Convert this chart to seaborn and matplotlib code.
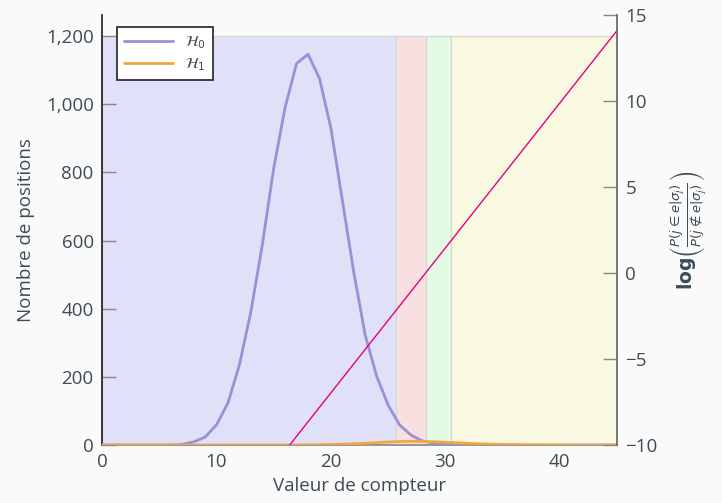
import numpy as np
import pandas as pd
import matplotlib
matplotlib.use("Agg")
import matplotlib.pyplot as plt
import matplotlib.ticker as mticker
import seaborn as sns

# Data
x_vals = list(range(0, 46))
h0 = [0, 0, 0, 0, 0, 0, 0, 2, 9, 23, 59, 123, 235, 390, 586, 812, 991, 1120, 1147, 1076,
      930, 718, 507, 322, 202, 117, 59, 29, 12, 5, 2, 1, 0, 0, 0, 0, 0, 0, 0, 0,
      0, 0, 0, 0, 0, 0]
h1 = [0, 0, 0, 0, 0, 0, 0, 0, 0, 0, 0, 0, 0, 0, 0, 0, 0, 0, 0.5, 1,
      1.5, 2.5, 3.5, 5, 7, 9, 10, 11, 10.5, 9.5, 8, 6.5, 5, 3.5, 2.5, 1.5, 1, 0.6, 0.3, 0.2,
      0.1, 0, 0, 0, 0, 0]
llr_x = [16.4, 45]
llr_y = [-10, 14.1]
regions = [(0, 25.7), (25.7, 28.3), (28.3, 30.5), (30.5, 45)]
region_colors = ["#e0e0f8", "#f9e0e0", "#e2f9e2", "#f9f9e2"]
labels = [r"$\mathcal{H}_0$", r"$\mathcal{H}_1$"]

sns.set_theme(style="white")
plt.rcParams['font.family'] = ['Open Sans', 'DejaVu Sans']
plt.rcParams['mathtext.fontset'] = 'dejavusans'
txt = "#3c4c55"
plt.rcParams['text.color'] = txt
plt.rcParams['axes.labelcolor'] = txt
plt.rcParams['xtick.color'] = txt
plt.rcParams['ytick.color'] = txt

fig = plt.figure(figsize=(7.22, 5.03), dpi=100, facecolor="#fafafa")
ax = fig.add_axes([0.1413, 0.1153, 0.7133, 0.8547])
ax.set_facecolor("#fafafa")

for (a, b), c in zip(regions, region_colors):
    ax.fill_between([a, b], 0, 1200, color=c, zorder=0, lw=0)
    ax.plot([a, a], [0, 1200], color="#d8d8d8", lw=1, zorder=0.5)
ax.plot([0, 45], [1200, 1200], color="#d8d8d8", lw=1, zorder=0.5)

df = pd.DataFrame({"x": x_vals, "h0": h0, "h1": h1})
sns.lineplot(data=df, x="x", y="h0", ax=ax, color="#9a90d8", lw=2, label=labels[0], zorder=3)
sns.lineplot(data=df, x="x", y="h1", ax=ax, color="#f5a540", lw=2, label=labels[1], zorder=3)

ax.set_xlim(0, 45)
ax.set_ylim(0, 1262)
ax.set_xticks([0, 10, 20, 30, 40])
ax.set_yticks([0, 200, 400, 600, 800, 1000, 1200])
ax.yaxis.set_major_formatter(mticker.FuncFormatter(lambda v, p: f"{int(v):,}"))
ax.tick_params(direction="in", length=10, width=1, labelsize=13.5, color="#888888", pad=6)
ax.set_xlabel("Valeur de compteur", fontsize=13.5, labelpad=4)
ax.set_ylabel("Nombre de positions", fontsize=13.5, labelpad=8)
ax.spines["top"].set_visible(False)
ax.spines["left"].set_color("#222222")
ax.spines["bottom"].set_color("#888888")
ax.spines["right"].set_visible(False)

leg = ax.legend(loc="upper left", bbox_to_anchor=(0.029, 0.972), borderaxespad=0,
                frameon=True, fontsize=11, handlelength=3.2, handletextpad=0.8,
                fancybox=False, borderpad=0.45, labelspacing=0.35)
leg.get_frame().set_edgecolor("#222222")
leg.get_frame().set_linewidth(1.2)
leg.get_frame().set_facecolor("white")
leg.get_frame().set_alpha(1)

ax2 = ax.twinx()
sns.lineplot(x=llr_x, y=llr_y, ax=ax2, color="#e6007e", lw=1)
ax2.set_ylim(-10, 15)
ax2.set_yticks([-10, -5, 0, 5, 10, 15])
ax2.yaxis.set_major_formatter(mticker.FuncFormatter(lambda v, p: f"{int(v)}".replace("-", "\u2212")))
ax2.tick_params(direction="in", length=10, width=1, labelsize=13.5, color="#888888", pad=6)
for s in ["top", "left", "bottom"]:
    ax2.spines[s].set_visible(False)
ax2.spines["right"].set_color("#666666")
ax2.set_ylabel(r"$\mathbf{log}\left(\frac{P(j\in e|\sigma_j)}{P(j\notin e|\sigma_j)}\right)$",
               fontsize=13.5, labelpad=8)

fig.savefig("out.png", dpi=100, facecolor=fig.get_facecolor())
